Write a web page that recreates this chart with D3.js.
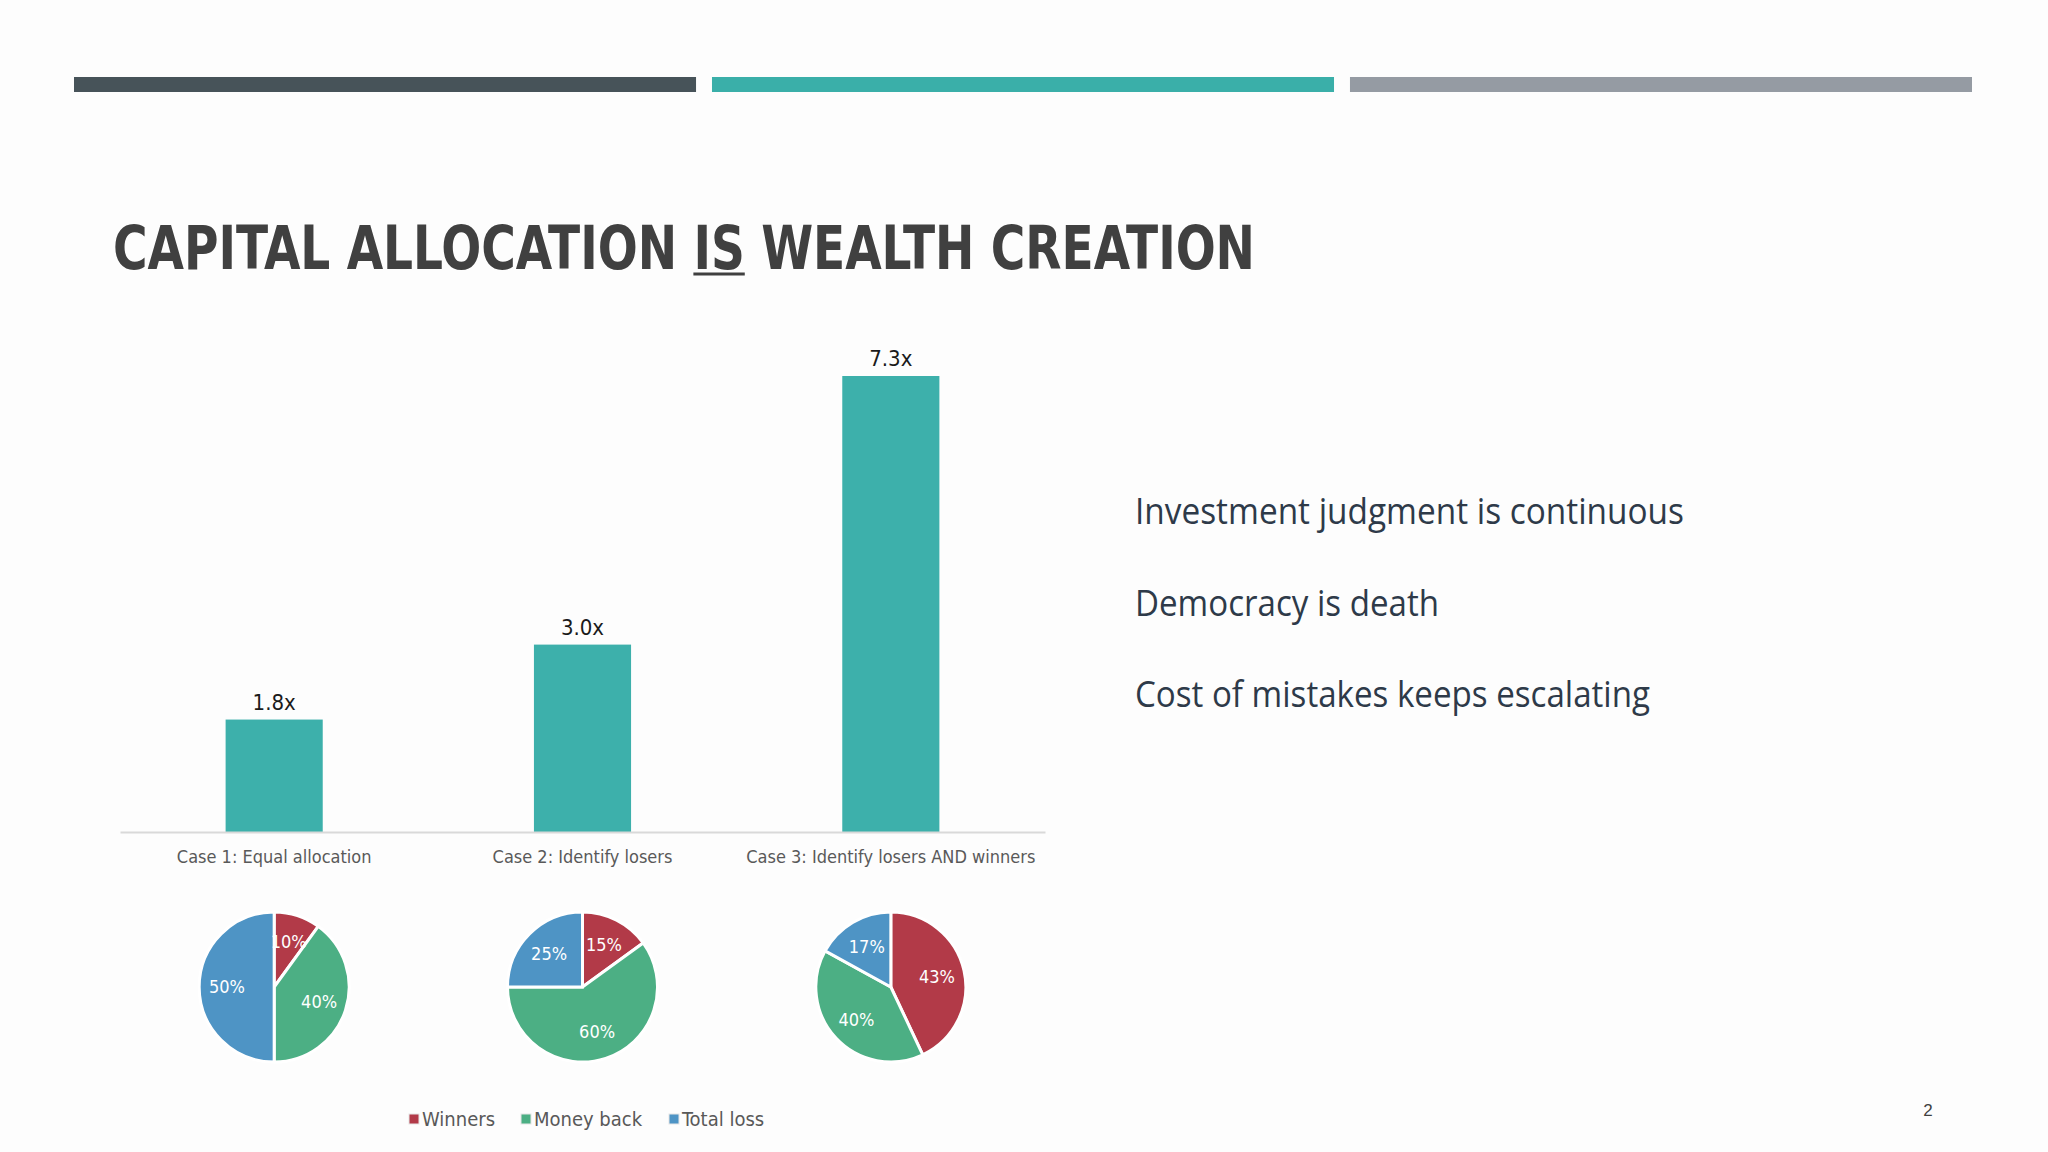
<!DOCTYPE html>
<html>
<head>
<meta charset="utf-8">
<script src="https://cdn.jsdelivr.net/npm/d3@7"></script>
<style>
  html, body { margin: 0; padding: 0; background: #fdfdfd; }
  svg { display: block; }
</style>
</head>
<body>
<div id="slide"></div>
<script>
// chart data
const cases = ['Case 1: Equal allocation', 'Case 2: Identify losers', 'Case 3: Identify losers AND winners']
const multiples = [1.8, 3.0, 7.3]
const outcomes = ['Winners', 'Money back', 'Total loss']
const outcomeShares = [
    [10, 40, 50],
    [15, 60, 25],
    [43, 40, 17]
]
const bullets = ['Investment judgment is continuous', 'Democracy is death', 'Cost of mistakes keeps escalating']
const headerColors = ['#475359', '#3aafa9', '#959ba3']
const outcomeColors = ['#b23a48', '#4caf84', '#4e94c5']

const [width, height] = [2048, 1152]
const narrow = '"Liberation Sans Narrow", "Arial Narrow", "DejaVu Sans Condensed", sans-serif'

const svg = d3.select('#slide').append('svg')
    .attr('width', width)
    .attr('height', height)

svg.append('rect')
    .attr('width', width)
    .attr('height', height)
    .attr('fill', '#fdfdfd')

// three header stripes
const stripeX = d3.scaleBand().domain(d3.range(3)).range([74, 1972]).paddingInner(0.025)
svg.selectAll('.stripe')
    .data(headerColors)
    .join('rect')
    .attr('class', 'stripe')
    .attr('x', (d, i) => stripeX(i))
    .attr('y', 77)
    .attr('width', stripeX.bandwidth())
    .attr('height', 15)
    .attr('fill', d => d)

// title, "IS" gets an underline drawn under it
const titleText = 'CAPITAL ALLOCATION IS WEALTH CREATION'
const title = svg.append('text')
    .attr('x', 113)
    .attr('y', 269)
    .attr('font-family', narrow)
    .attr('font-weight', 'bold')
    .attr('font-size', 60)
    .attr('fill', '#404040')
    .attr('textLength', 1142)
    .attr('lengthAdjust', 'spacingAndGlyphs')
    .text(titleText)

const isStart = titleText.indexOf(' IS ') + 1
const tNode = title.node()
const ulStart = tNode.getStartPositionOfChar(isStart).x
const ulEnd = tNode.getEndPositionOfChar(isStart + 1).x
svg.append('line')
    .attr('x1', ulStart)
    .attr('x2', ulEnd)
    .attr('y1', 274)
    .attr('y2', 274)
    .attr('stroke', '#404040')
    .attr('stroke-width', 3)

// bar chart
const x = d3.scaleBand()
    .domain(cases)
    .range([120, 1045])
    .paddingInner(0.685)
    .paddingOuter(0.3425)

const y = d3.scaleLinear()
    .domain([0, 7.3])
    .range([832, 376])

svg.selectAll('.bar')
    .data(multiples)
    .join('rect')
    .attr('class', 'bar')
    .attr('x', (d, i) => x(cases[i]))
    .attr('y', d => y(d))
    .attr('width', x.bandwidth())
    .attr('height', d => y(0) - y(d))
    .attr('fill', '#3db0ab')

svg.selectAll('.bar-label')
    .data(multiples)
    .join('text')
    .attr('class', 'bar-label')
    .attr('x', (d, i) => x(cases[i]) + x.bandwidth() / 2)
    .attr('y', d => y(d) - 10)
    .attr('text-anchor', 'middle')
    .attr('font-family', narrow)
    .attr('font-size', 22)
    .attr('fill', '#1a1a1a')
    .text(d => d.toFixed(1) + 'x')

const xAxis = svg.append('g')
    .attr('transform', `translate(0, ${y(0)})`)
    .call(d3.axisBottom(x).tickSize(0).tickPadding(18))
xAxis.select('.domain').attr('stroke', '#d9d9d9').attr('stroke-width', 2)
xAxis.selectAll('text')
    .attr('font-family', narrow)
    .attr('font-size', 18)
    .attr('fill', '#595959')

// pies below each bar
const pie = d3.pie().sort(null).value(d => d)
const radius = 75
const arc = d3.arc().innerRadius(0).outerRadius(radius)
const labelArc = d3.arc().innerRadius(radius * 0.63).outerRadius(radius * 0.63)

outcomeShares.forEach((shares, i) => {
    const g = svg.append('g')
        .attr('transform', `translate(${x(cases[i]) + x.bandwidth() / 2}, 987)`)

    const arcs = pie(shares)

    g.selectAll('path')
        .data(arcs)
        .join('path')
        .attr('d', arc)
        .attr('fill', (d, j) => outcomeColors[j])
        .attr('stroke', '#ffffff')
        .attr('stroke-width', 3)

    g.selectAll('text')
        .data(arcs)
        .join('text')
        .attr('transform', d => `translate(${labelArc.centroid(d)})`)
        .attr('text-anchor', 'middle')
        .attr('dy', '0.35em')
        .attr('font-family', narrow)
        .attr('font-size', 18)
        .attr('fill', '#ffffff')
        .text(d => d.value + '%')
})

// legend
const legendX = d3.scaleOrdinal().domain(outcomes).range([409, 521, 669])
const legend = svg.selectAll('.legend')
    .data(outcomes)
    .join('g')
    .attr('class', 'legend')
    .attr('transform', d => `translate(${legendX(d)}, 1119)`)

legend.append('rect')
    .attr('x', 0)
    .attr('y', -5)
    .attr('width', 10)
    .attr('height', 10)
    .attr('fill', (d, i) => outcomeColors[i])
    .attr('stroke', '#e6e6e6')
    .attr('stroke-width', 1)

legend.append('text')
    .attr('x', 13)
    .attr('dy', '0.35em')
    .attr('font-family', narrow)
    .attr('font-size', 20)
    .attr('fill', '#595959')
    .text(d => d)

// bullet text on the right
const bulletLengths = [549, 304, 515]
svg.selectAll('.bullet')
    .data(bullets)
    .join('text')
    .attr('class', 'bullet')
    .attr('x', 1135)
    .attr('y', (d, i) => 524 + i * 91.5)
    .attr('font-family', '"Open Sans", sans-serif')
    .attr('font-size', 36)
    .attr('fill', '#2e3a49')
    .attr('textLength', (d, i) => bulletLengths[i])
    .attr('lengthAdjust', 'spacingAndGlyphs')
    .text(d => d)

// slide number
svg.append('text')
    .attr('x', 1928)
    .attr('y', 1116)
    .attr('text-anchor', 'middle')
    .attr('font-family', '"Liberation Sans", sans-serif')
    .attr('font-size', 17)
    .attr('fill', '#404040')
    .text('2')
</script>
</body>
</html>
